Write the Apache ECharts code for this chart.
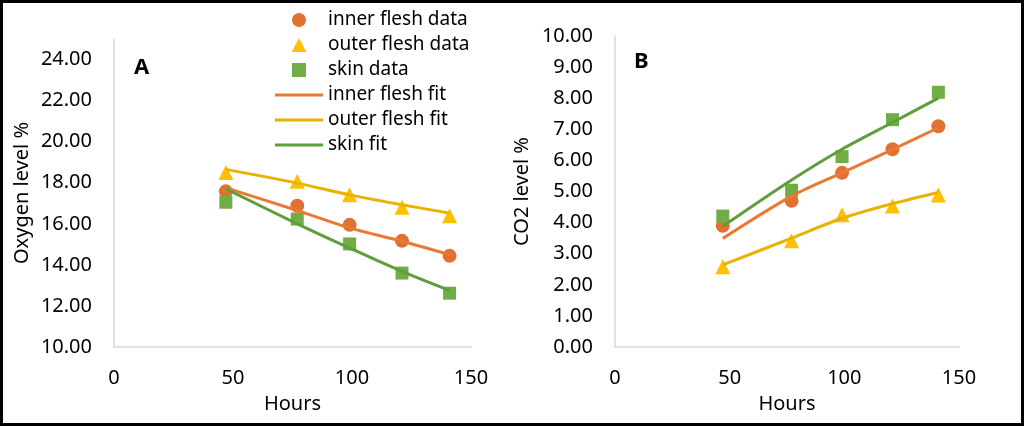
<!DOCTYPE html>
<html>
<head>
<meta charset="utf-8">
<script src="https://cdn.jsdelivr.net/npm/echarts@6/dist/echarts.min.js"></script>
<style>
html, body { margin: 0; padding: 0; background: #fff; }
#main { width: 1024px; height: 426px; }
</style>
</head>
<body>
<div id="main"></div>
<script>
// 时间点 (h)
var hours = [47, 77, 99, 121, 141];

// A: 氧气
var o2Inner = [17.58, 16.88, 15.95, 15.17, 14.44];
var o2Outer = [18.5, 18.07, 17.41, 16.81, 16.39];
var o2Skin = [17.05, 16.23, 15.02, 13.6, 12.62];
var o2InnerFit = [17.75, 16.65, 15.8, 15.15, 14.5];
var o2OuterFit = [18.65, 17.98, 17.41, 16.93, 16.52];
var o2SkinFit = [17.7, 16.0, 14.82, 13.68, 12.75];

// B: 二氧化碳
var co2Inner = [3.9, 4.7, 5.6, 6.36, 7.1];
var co2Outer = [2.58, 3.42, 4.25, 4.53, 4.89];
var co2Skin = [4.21, 5.04, 6.12, 7.31, 8.19];
var co2InnerFit = [3.49, 4.85, 5.6, 6.35, 7.05];
var co2OuterFit = [2.64, 3.5, 4.14, 4.61, 4.97];
var co2SkinFit = [3.88, 5.37, 6.36, 7.22, 8.0];

var names = ['inner flesh data', 'outer flesh data', 'skin data', 'inner flesh fit', 'outer flesh fit', 'skin fit'];

var font = 'Noto Sans';
var axisGrey = '#D9D9D9';
// 图例图标 (保持比例)
var lineIcon = 'path://M0,0H160V10H0Z';
var triIcon = 'path://M5,0L10,9.5L0,9.5Z';
var rectIcon = 'path://M0,0H10V10H0Z';

function pairs(xs, ys){
	var out = [];
	for(var i=0;i<xs.length;i++){
		out.push([xs[i], ys[i]]);
	}
	return out;
}

function dataSeries(name, sym, size, color, ys, idx){
	return { name:name, type:'scatter', xAxisIndex:idx, yAxisIndex:idx, symbol:sym, symbolSize:size,
		itemStyle:{color:color, opacity:1}, z:2, data:pairs(hours, ys) };
}
function fitSeries(name, color, ys, idx){
	return { name:name, type:'line', xAxisIndex:idx, yAxisIndex:idx, symbol:'none', smooth:0.3,
		lineStyle:{color:color, width:3}, itemStyle:{color:color}, z:3, data:pairs(hours, ys) };
}

var cOrange = '#E07130', cOrangeLine = '#EA7A33';
var cYellow = '#FFC000', cYellowLine = '#E8B200';
var cGreen = '#70AD47', cGreenLine = '#5E9E3B';

var myChart = echarts.init(document.getElementById('main'));

function xAx(idx){
	return { gridIndex:idx, type:'value', min:0, max:150, interval:50,
		name:'Hours', nameLocation:'middle', nameGap:47,
		nameTextStyle:{fontFamily:font, fontSize:20, color:'#000'},
		axisLine:{lineStyle:{color:axisGrey, width:1.5}}, axisTick:{show:false}, splitLine:{show:false},
		axisLabel:{fontFamily:font, fontSize:20, color:'#000', margin:21} };
}
function yAx(idx, name, min, max, interval, top, gap){
	return { gridIndex:idx, type:'value', min:min, max:max, interval:interval,
		name:name, nameLocation:'middle', nameGap:gap,
		nameTextStyle:{fontFamily:font, fontSize:20, color:'#000'},
		axisLine:{show:true, lineStyle:{color:axisGrey, width:1.5}}, axisTick:{show:false}, splitLine:{show:false},
		axisLabel:{fontFamily:font, fontSize:20, color:'#000', margin:22,
			formatter:function(v){ return v > top ? '' : v.toFixed(2); }} };
}

var option = {
	animation:false,
	backgroundColor:'#fff',
	grid:[
		{ left:114, top:39, width:357, height:308 },
		{ left:615, top:36, width:344, height:311 }
	],
	xAxis:[ xAx(0), xAx(1) ],
	yAxis:[
		yAx(0, 'Oxygen level %', 10, 25, 2, 24, 82),
		yAx(1, 'CO2 level %', 0, 10, 1, 10, 83)
	],
	legend:{
		orient:'vertical', left:270, top:5,
		itemWidth:48, itemHeight:14, itemGap:5,
		symbolKeepAspect:true,
		textStyle:{fontFamily:font, fontSize:19, color:'#000', lineHeight:20},
		data:[
			{ name:names[0], icon:'circle' },
			{ name:names[1], icon:triIcon },
			{ name:names[2], icon:rectIcon },
			{ name:names[3], icon:lineIcon },
			{ name:names[4], icon:lineIcon },
			{ name:names[5], icon:lineIcon }
		]
	},
	graphic:[
		{ type:'text', left:134, top:57, style:{text:'A', font:'bold 22px "Noto Sans"', fill:'#000'} },
		{ type:'text', left:634, top:51, style:{text:'B', font:'bold 22px "Noto Sans"', fill:'#000'} },
		{ type:'rect', shape:{x:1.5, y:1.5, width:1021, height:423}, style:{fill:'none', stroke:'#000', lineWidth:3} }
	],
	series:[
		dataSeries(names[0], 'circle', 14, cOrange, o2Inner, 0),
		dataSeries(names[1], 'triangle', 15, cYellow, o2Outer, 0),
		dataSeries(names[2], 'rect', 13, cGreen, o2Skin, 0),
		fitSeries(names[3], cOrangeLine, o2InnerFit, 0),
		fitSeries(names[4], cYellowLine, o2OuterFit, 0),
		fitSeries(names[5], cGreenLine, o2SkinFit, 0),
		dataSeries(names[0], 'circle', 14, cOrange, co2Inner, 1),
		dataSeries(names[1], 'triangle', 15, cYellow, co2Outer, 1),
		dataSeries(names[2], 'rect', 13, cGreen, co2Skin, 1),
		fitSeries(names[3], cOrangeLine, co2InnerFit, 1),
		fitSeries(names[4], cYellowLine, co2OuterFit, 1),
		fitSeries(names[5], cGreenLine, co2SkinFit, 1)
	]
};

myChart.setOption(option);
</script>
</body>
</html>
